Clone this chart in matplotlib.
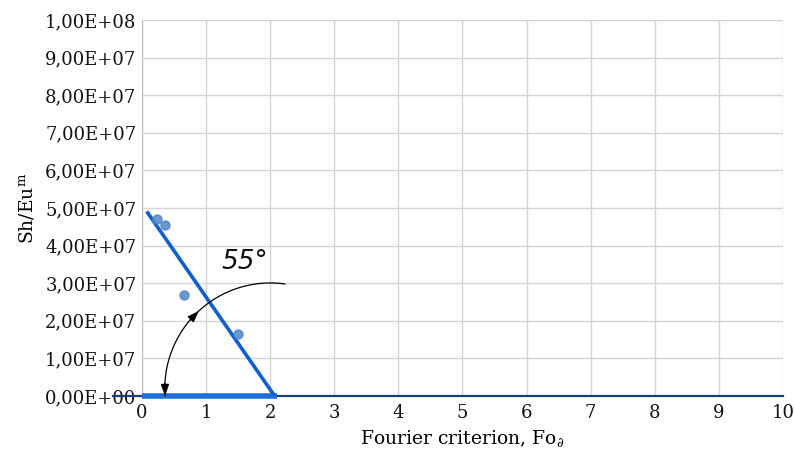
import numpy as np
import matplotlib.pyplot as plt
from matplotlib.patches import FancyArrowPatch
from matplotlib.ticker import FuncFormatter, MultipleLocator

# measured points
fo_points = [0.23, 0.36, 0.66, 1.50]
sh_points = [4.71e7, 4.55e7, 2.69e7, 1.65e7]

# fitted straight line
fo_fit = [0.09, 2.07]
sh_fit = [4.87e7, 0.0]

# thick segment along the axis
fo_base = [0.0, 2.10]
sh_base = [0.0, 0.0]

plt.rcParams['font.family'] = 'DejaVu Serif'
plt.rcParams['mathtext.fontset'] = 'dejavuserif'

fig = plt.figure(figsize=(7.94, 4.58), dpi=100)
ax = fig.add_axes([0.1788, 0.1354, 0.8073, 0.8209])

ax.set_xlim(0, 10)
ax.set_ylim(0, 1e8)
ax.xaxis.set_major_locator(MultipleLocator(1))
ax.yaxis.set_major_locator(MultipleLocator(1e7))
ax.yaxis.set_major_formatter(FuncFormatter(lambda v, p: f'{v:.2E}'.replace('.', ',')))
ax.tick_params(length=0, labelsize=13, colors='#111111')
ax.tick_params(axis='x', pad=6)
ax.tick_params(axis='y', pad=4)
ax.grid(True, color='#d4d4d4', lw=1)
ax.set_axisbelow(True)
for s in ['top', 'right']:
    ax.spines[s].set_visible(False)
ax.spines['left'].set_color('#bdbdbd')
ax.spines['bottom'].set_color('#1b3f7a')
ax.spines['bottom'].set_linewidth(1.6)

ax.plot([-0.45, 0], [0, 0], color='#1b3f7a', lw=1.6, clip_on=False, zorder=3)
ax.plot(fo_base, sh_base, color='#1f6fd6', lw=4, solid_capstyle='butt', clip_on=False, zorder=3)
ax.plot(fo_fit, sh_fit, color='#0f5fd0', lw=2.6, zorder=4)
ax.plot(fo_points, sh_points, 'o', color='#4f86c6', ms=6.5, alpha=0.85, zorder=5)

# angle annotation: one circular arc through three points (in screen-like units)
sx, sy = 64.1, 37.6 / 1e7
pts = np.array([[2.23, 2.98e7], [1.06, 2.50e7], [0.36, 0.0]])
P = np.column_stack([pts[:, 0] * sx, pts[:, 1] * sy])
(x1, y1), (x2, y2), (x3, y3) = P
M = np.array([[x2 - x1, y2 - y1], [x3 - x1, y3 - y1]]) * 2
rhs = np.array([x2**2 - x1**2 + y2**2 - y1**2, x3**2 - x1**2 + y3**2 - y1**2])
cx, cy = np.linalg.solve(M, rhs)
r = np.hypot(x1 - cx, y1 - cy)
a1, aB, a3 = np.unwrap(np.arctan2(P[:, 1] - cy, P[:, 0] - cx))
t = np.linspace(a1, a3, 200)
ax.plot((cx + r * np.cos(t)) / sx, (cy + r * np.sin(t)) / sy, color='black', lw=0.9, zorder=6)


def head(a_from, a_to):
    p0 = ((cx + r * np.cos(a_from)) / sx, (cy + r * np.sin(a_from)) / sy)
    p1 = ((cx + r * np.cos(a_to)) / sx, (cy + r * np.sin(a_to)) / sy)
    ax.add_patch(FancyArrowPatch(p0, p1, arrowstyle='-|>,head_length=7,head_width=2.5',
                                 color='black', lw=0.9, shrinkA=0, shrinkB=0, zorder=6))


a_tip = aB + (a3 - aB) * 0.13
head(a_tip + (a3 - aB) * 0.12, a_tip)
head(a3 - (a3 - aB) * 0.12, a3)

ax.text(1.61, 3.56e7, '55°', fontsize=19, style='italic', family='DejaVu Sans',
        ha='center', va='center', color='#111111', zorder=6)

ax.set_xlabel(r'Fourier criterion, Fo$_\partial$', fontsize=13.5, labelpad=4)
ax.set_ylabel(r'Sh/Eu$^{\mathrm{m}}$', fontsize=13.5, labelpad=6)

fig.savefig('out.png', dpi=100)
